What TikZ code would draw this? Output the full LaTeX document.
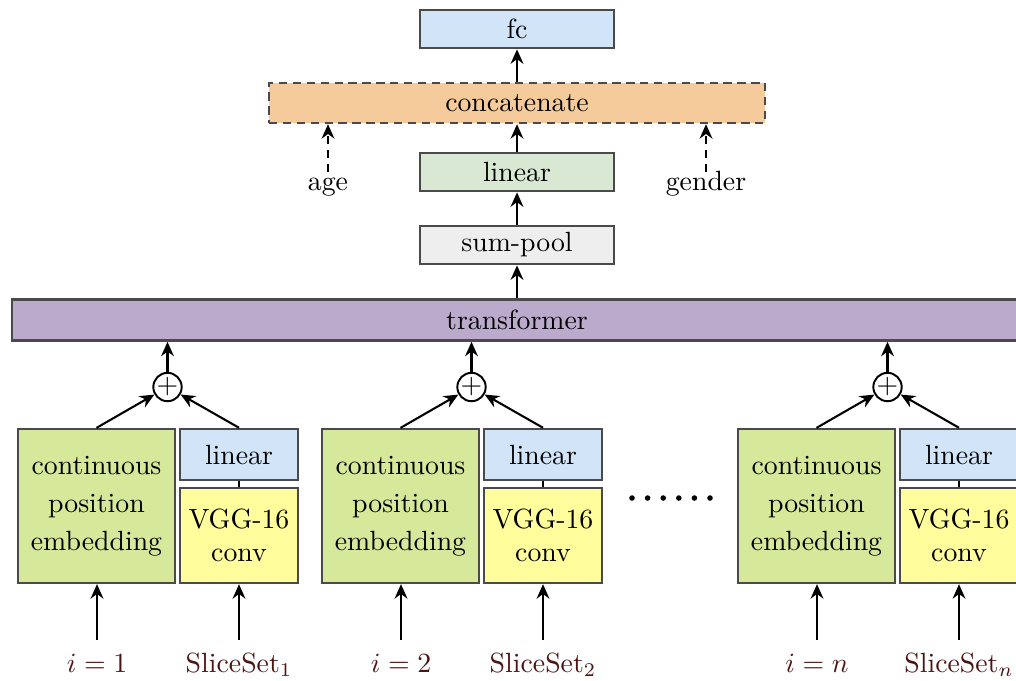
\documentclass[tikz,border=0pt]{standalone}
\usetikzlibrary{arrows.meta}

\definecolor{fcblue}{HTML}{D2E4F8}
\definecolor{catorange}{HTML}{F6CB9B}
\definecolor{lingreen}{HTML}{D9E8D3}
\definecolor{poolgray}{HTML}{EEEEEE}
\definecolor{transpurple}{HTML}{BBAACC}
\definecolor{embgreen}{HTML}{D6E89A}
\definecolor{convyellow}{HTML}{FFFD9C}
\definecolor{edgegray}{HTML}{4A4A4A}
\definecolor{inputred}{HTML}{4E1414}

\tikzset{
  box/.style={draw=edgegray, line width=0.85pt, rectangle, inner sep=0pt, align=center},
  wide/.style={box, minimum width=70pt, minimum height=13.8pt},
  colbox/.style={box, minimum width=42.5pt},
  sumnode/.style={draw, circle, line width=0.7pt, minimum size=10pt, inner sep=0pt, fill=white},
  arr/.style={-{Stealth[length=5.2pt,width=4.6pt]}, line width=0.75pt},
  darr/.style={arr, dash pattern=on 3pt off 2pt},
  sidelabel/.style={anchor=base, inner sep=1pt},
  inlabel/.style={text=inputred, anchor=base, inner sep=1pt},
}

\begin{document}
\begin{tikzpicture}[x=0.36pt, y=-0.36pt]
  \useasboundingbox (0,0) rectangle (1016,680);

  % head of the network
  \node[wide, fill=fcblue] (fc) at (517,29) {fc};
  \node[box, fill=catorange, dash pattern=on 3pt off 2pt,
        minimum width=178.6pt, minimum height=14.4pt] (cat) at (517,103) {concatenate};
  \node[wide, fill=lingreen] (lin) at (517,172) {linear};
  \node[wide, fill=poolgray] (pool) at (517,245) {sum-pool};
  \node[box, fill=transpurple, minimum width=363.6pt, minimum height=14.8pt] (tr) at (517,320) {transformer};

  \node[sidelabel] (age) at (328,190) {age};
  \node[sidelabel] (gender) at (706,190) {gender};
  \coordinate (agetop) at (328,172);
  \coordinate (gendertop) at (706,172);

  \draw[arr] (cat.north) -- (fc.south);
  \draw[arr] (lin.north) -- (cat.south);
  \draw[arr] (pool.north) -- (lin.south);
  \draw[arr] (tr.north -| pool.south) -- (pool.south);
  \draw[darr] (agetop) -- (agetop |- cat.south);
  \draw[darr] (gendertop) -- (gendertop |- cat.south);

  % one branch per slice set
  \foreach \k/\dx/\idx in {1/0/1, 2/304/2, 3/720/n} {
    \node[box, fill=embgreen, minimum width=56.5pt, minimum height=55.4pt] (g\k) at (96.5+\dx,506)
      {continuous\\[1.6pt]position\\[1.6pt]embedding};
    \node[colbox, fill=fcblue, minimum height=18.4pt] (b\k) at (239+\dx,454.5) {linear};
    \node[colbox, fill=convyellow, minimum height=34.2pt] (y\k) at (239+\dx,535.5) {VGG-16\\conv};
    \node[sumnode] (p\k) at (167.5+\dx,387) {$+$};

    \node[inlabel] (i\k) at (97+\dx,672) {$i=\idx$};
    \node[inlabel] (s\k) at (239+\dx,672) {SliceSet$_{\idx}$};
    \coordinate (ci\k) at (97+\dx,640);
    \coordinate (cs\k) at (239+\dx,640);

    \draw[line width=0.75pt] (y\k.north) -- (b\k.south);
    \draw[arr] (ci\k) -- (ci\k |- g\k.south);
    \draw[arr] (cs\k) -- (cs\k |- y\k.south);
    \draw[arr] (g\k.north) -- (p\k);
    \draw[arr] (b\k.north) -- (p\k);
    \draw[arr] (p\k.north) -- (p\k.north |- tr.south);
  }

  % elided branches
  \foreach \j in {0,...,5}
    \fill (632+15.6*\j,498) circle (1.0pt);
\end{tikzpicture}
\end{document}
